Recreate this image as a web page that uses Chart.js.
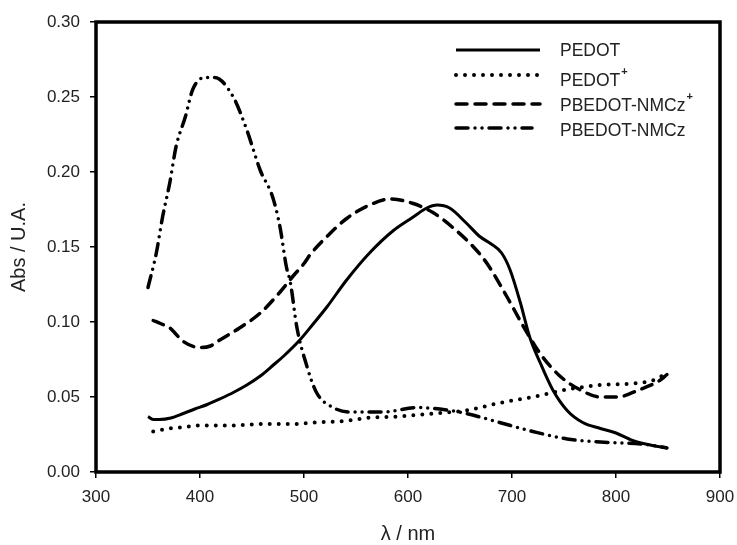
<!DOCTYPE html>
<html>
<head>
<meta charset="utf-8">
<script src="https://cdn.jsdelivr.net/npm/chart.js@4/dist/chart.umd.min.js"></script>
<style>
  html, body { margin: 0; padding: 0; background: #fff; }
  #wrap { width: 737px; height: 545px; }
</style>
</head>
<body>
<div id="wrap"><canvas id="chart"></canvas></div>
<script>
// UV-vis spectra
const pedotNm = [350, 355, 361, 372, 384, 395, 407, 420, 432, 445, 458, 470, 480, 496, 508, 522, 541, 563, 586, 605, 618, 628, 640, 656, 669, 680, 690, 698, 708, 717, 727, 739, 753, 768, 785, 800, 816, 833, 849];
const pedotAbs = [0.037, 0.035, 0.035, 0.036, 0.039, 0.042, 0.045, 0.049, 0.053, 0.058, 0.064, 0.071, 0.077, 0.088, 0.098, 0.110, 0.128, 0.146, 0.161, 0.170, 0.176, 0.178, 0.176, 0.166, 0.157, 0.152, 0.146, 0.135, 0.113, 0.090, 0.073, 0.055, 0.041, 0.033, 0.029, 0.026, 0.021, 0.018, 0.016];

const pedotOxNm = [355, 370, 385, 400, 430, 460, 490, 510, 540, 560, 590, 624, 656, 688, 720, 753, 785, 816, 835, 849];
const pedotOxAbs = [0.027, 0.029, 0.030, 0.031, 0.031, 0.032, 0.032, 0.033, 0.034, 0.036, 0.037, 0.039, 0.041, 0.046, 0.050, 0.055, 0.058, 0.059, 0.061, 0.066];

const nmczOxNm = [355, 362, 371, 384, 400, 410, 419, 438, 458, 477, 490, 500, 506, 525, 541, 560, 583, 605, 624, 643, 663, 676, 695, 711, 727, 746, 765, 785, 801, 823, 842, 849];
const nmczOxAbs = [0.101, 0.099, 0.096, 0.087, 0.083, 0.084, 0.088, 0.096, 0.106, 0.120, 0.131, 0.139, 0.145, 0.159, 0.169, 0.177, 0.182, 0.179, 0.173, 0.163, 0.150, 0.139, 0.117, 0.097, 0.079, 0.064, 0.055, 0.050, 0.050, 0.055, 0.061, 0.065];

const nmczNm = [350, 358, 364, 371, 377, 386, 393, 405, 414, 432, 445, 458, 470, 477, 483, 487, 493, 503, 512, 528, 544, 576, 609, 640, 656, 688, 720, 753, 785, 833, 849];
const nmczAbs = [0.123, 0.146, 0.170, 0.193, 0.217, 0.237, 0.255, 0.263, 0.263, 0.250, 0.228, 0.201, 0.183, 0.163, 0.137, 0.126, 0.097, 0.070, 0.053, 0.043, 0.040, 0.040, 0.043, 0.041, 0.039, 0.033, 0.027, 0.022, 0.020, 0.018, 0.016];

const xTicks = [300, 400, 500, 600, 700, 800, 900];
const yTicks = [0.00, 0.05, 0.10, 0.15, 0.20, 0.25, 0.30];
const xTitle = "λ / nm";
const yTitle = "Abs / U.A.";

const FONT = "'Liberation Sans', Arial, sans-serif";
const toXY = (xs, ys) => xs.map((x, i) => ({ x: x, y: ys[i] }));

const series = [
  { label: "PEDOT", sup: "", xs: pedotNm, ys: pedotAbs, dash: [], width: 3 },
  { label: "PEDOT", sup: "+", xs: pedotOxNm, ys: pedotOxAbs, dash: [0, 9], width: 4 },
  { label: "PBEDOT-NMCz", sup: "+", xs: nmczOxNm, ys: nmczOxAbs, dash: [11, 8], width: 3.5 },
  { label: "PBEDOT-NMCz", sup: "", xs: nmczNm, ys: nmczAbs, dash: [12, 7, 0, 7, 0, 7], width: 3.5 },
];

// legend rows: sample line y, text y
const legendRows = [[50, 51], [75, 81], [104, 106], [128, 131]];

const framePlugin = {
  id: "frame",
  afterDatasetsDraw(chart) {
    const { ctx, chartArea: a } = chart;
    ctx.save();
    ctx.strokeStyle = "#000";
    ctx.lineWidth = 3.5;
    ctx.strokeRect(a.left, a.top, a.right - a.left, a.bottom - a.top);

    // axis titles
    ctx.fillStyle = "#222";
    ctx.font = "20px " + FONT;
    ctx.textAlign = "center";
    ctx.textBaseline = "middle";
    ctx.fillText(xTitle, 408, 534);
    ctx.save();
    ctx.translate(19, 247);
    ctx.rotate(-Math.PI / 2);
    ctx.fillText(yTitle, 0, 0);
    ctx.restore();

    // legend
    series.forEach((s, i) => {
      const [ly, ty] = legendRows[i];
      ctx.beginPath();
      ctx.strokeStyle = "#000";
      ctx.setLineDash(s.dash);
      ctx.lineCap = s.dash.length ? "round" : "butt";
      ctx.lineWidth = s.width;
      ctx.moveTo(456, ly);
      ctx.lineTo(i === 3 ? 532 : 540, ly);
      ctx.stroke();
      ctx.setLineDash([]);
      ctx.fillStyle = "#222";
      ctx.font = "17.5px " + FONT;
      ctx.textBaseline = "middle";
      ctx.textAlign = "left";
      ctx.fillText(s.label, 560, ty);
      if (s.sup) {
        const w = ctx.measureText(s.label).width;
        ctx.font = "bold 11px " + FONT;
        ctx.fillText(s.sup, 560 + w + 1, ty - 9);
      }
    });
    ctx.restore();
  },
};

new Chart(document.getElementById("chart"), {
  type: "line",
  data: {
    datasets: series.map((s) => ({
      label: s.label + s.sup,
      data: toXY(s.xs, s.ys),
      borderColor: "#000",
      borderWidth: s.width,
      borderDash: s.dash,
      borderCapStyle: s.dash.length ? "round" : "butt",
      pointRadius: 0,
      fill: false,
      cubicInterpolationMode: "monotone",
    })),
  },
  options: {
    responsive: true,
    maintainAspectRatio: false,
    animation: false,
    layout: { padding: { left: 0, top: 22, right: 17, bottom: 0 } },
    plugins: { legend: { display: false }, tooltip: { enabled: false } },
    scales: {
      x: {
        type: "linear",
        min: 300,
        max: 900,
        afterBuildTicks: (scale) => { scale.ticks = xTicks.map((v) => ({ value: v })); },
        afterFit: (scale) => { scale.height = 73; scale.paddingLeft = 0; scale.paddingRight = 0; },
        border: { display: false },
        grid: { drawOnChartArea: false, drawTicks: true, tickLength: 6, tickColor: "#000", lineWidth: 1.5 },
        ticks: { color: "#222", font: { family: FONT, size: 17 }, padding: 9, maxRotation: 0 },
      },
      y: {
        type: "linear",
        min: 0,
        max: 0.3,
        afterBuildTicks: (scale) => { scale.ticks = yTicks.map((v) => ({ value: v })); },
        afterFit: (scale) => { scale.width = 96; scale.paddingTop = 0; scale.paddingBottom = 0; },
        border: { display: false },
        grid: { drawOnChartArea: false, drawTicks: true, tickLength: 6, tickColor: "#000", lineWidth: 1.5 },
        ticks: { color: "#222", font: { family: FONT, size: 17 }, padding: 10, callback: (v) => v.toFixed(2) },
      },
    },
  },
  plugins: [framePlugin],
});
</script>
</body>
</html>
